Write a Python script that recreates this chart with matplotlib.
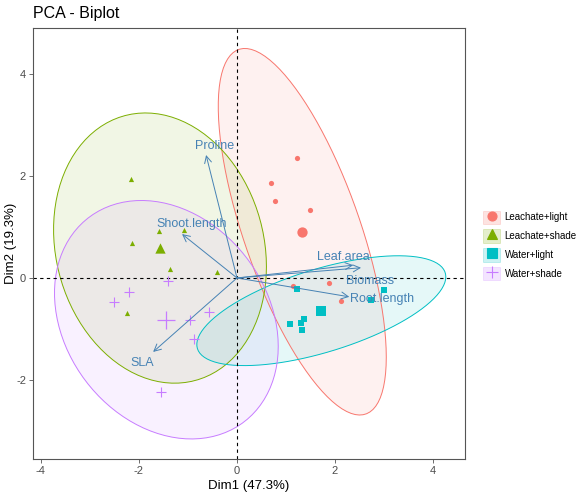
import numpy as np
import matplotlib
matplotlib.use("Agg")
import matplotlib.pyplot as plt
from matplotlib.patches import Polygon, Patch
from matplotlib.lines import Line2D
from matplotlib.legend_handler import HandlerTuple

plt.rcParams["font.family"] = ["Liberation Sans", "DejaVu Sans"]
plt.rcParams["axes.unicode_minus"] = False

# individuals (Dim1, Dim2) per group
groups = ["Leachate+light", "Leachate+shade", "Water+light", "Water+shade"]
dim1 = {
    "Leachate+light": [1.22, 0.69, 0.78, 1.49, 1.14, 1.88, 2.12],
    "Leachate+shade": [-2.16, -1.59, -1.08, -2.14, -1.37, -0.41, -2.24],
    "Water+light": [1.22, 3.00, 2.73, 1.37, 1.31, 1.08, 1.33],
    "Water+shade": [-1.41, -2.20, -2.51, -0.96, -0.57, -0.88, -1.55],
}
dim2 = {
    "Leachate+light": [2.35, 1.86, 1.51, 1.33, -0.16, -0.10, -0.45],
    "Leachate+shade": [1.94, 0.92, 0.94, 0.69, 0.18, 0.12, -0.69],
    "Water+light": [-0.22, -0.24, -0.43, -0.80, -0.88, -0.90, -1.02],
    "Water+shade": [-0.06, -0.27, -0.47, -0.82, -0.67, -1.20, -2.24],
}

# variable arrows (scaled coordinates)
variables = ["Proline", "Shoot.length", "SLA", "Leaf.area", "Biomass", "Root.length"]
var_x = [-0.63, -1.12, -1.71, 2.37, 2.53, 2.29]
var_y = [2.41, 0.86, -1.45, 0.25, 0.20, -0.37]

colors = {"Leachate+light": "#F8766D", "Leachate+shade": "#7CAE00",
          "Water+light": "#00BFC4", "Water+shade": "#C77CFF"}
markers = {"Leachate+light": "o", "Leachate+shade": "^",
           "Water+light": "s", "Water+shade": "+"}
# label offsets relative to arrow tips (data units)
label_offset = {"Proline": (0.18, 0.18), "Shoot.length": (0.2, 0.2), "SLA": (-0.23, -0.22),
                "Leaf.area": (-0.21, 0.16), "Biomass": (0.18, -0.26), "Root.length": (0.67, -0.04)}
VAR_COLOR = "#4682B4"


def norm_ellipse(x, y, level=0.95, n_seg=100):
    # same as ggplot2 stat_ellipse(type = "norm")
    x, y = np.asarray(x), np.asarray(y)
    n = len(x)
    center = np.array([x.mean(), y.mean()])
    cov = np.cov(np.vstack([x, y]))
    d2 = n - 1
    qf = d2 / 2 * ((1 - level) ** (-2 / d2) - 1)  # F(2, n-1) quantile
    radius = np.sqrt(2 * qf)
    t = np.linspace(0, 2 * np.pi, n_seg)
    circle = np.column_stack([np.cos(t), np.sin(t)])
    chol = np.linalg.cholesky(cov).T
    return center + radius * circle @ chol


fig = plt.figure(figsize=(5.86, 4.99), dpi=100)
ax = fig.add_axes([0.0563, 0.080, 0.7372, 0.864])

for g in groups:
    pts = norm_ellipse(dim1[g], dim2[g])
    ax.add_patch(Polygon(pts, closed=True, facecolor=colors[g], alpha=0.1, edgecolor="none", zorder=1))
    ax.add_patch(Polygon(pts, closed=True, facecolor="none", edgecolor=colors[g], lw=0.7, zorder=2))

ax.axhline(0, color="black", ls=(0, (3, 3)), lw=0.8, zorder=2.5)
ax.axvline(0, color="black", ls=(0, (3, 3)), lw=0.8, zorder=2.5)

for g in groups:
    c = colors[g]
    mk = markers[g]
    if mk == "+":
        ax.scatter(dim1[g], dim2[g], marker=mk, s=45, color=c, linewidths=0.8, zorder=3)
        ax.scatter(np.mean(dim1[g]), np.mean(dim2[g]), marker=mk, s=150, color=c, linewidths=0.9, zorder=3)
    else:
        ax.scatter(dim1[g], dim2[g], marker=mk, s=14, color=c, linewidths=0, zorder=3)
        ax.scatter(np.mean(dim1[g]), np.mean(dim2[g]), marker=mk, s=55, color=c, linewidths=0, zorder=3)

for name, vx, vy in zip(variables, var_x, var_y):
    ax.annotate("", xy=(vx, vy), xytext=(0, 0),
                arrowprops=dict(arrowstyle="->,head_length=0.5,head_width=0.25",
                                color=VAR_COLOR, lw=0.7, shrinkA=0, shrinkB=0), zorder=4)
    dx, dy = label_offset[name]
    ax.text(vx + dx, vy + dy, name, color=VAR_COLOR, fontsize=9,
            ha="center", va="center", zorder=5)

ax.set_xlim(-4.16, 4.65)
ax.set_ylim(-3.55, 4.9)
ax.set_xticks([-4, -2, 0, 2, 4])
ax.set_yticks([-2, 0, 2, 4])
ax.tick_params(colors="#555555", labelsize=8, length=3, width=0.6, pad=2)
for lab in ax.get_xticklabels() + ax.get_yticklabels():
    lab.set_color("#4d4d4d")
for sp in ax.spines.values():
    sp.set_color("#555555")
    sp.set_linewidth(0.8)
ax.set_xlabel("Dim1 (47.3%)", fontsize=9.5, labelpad=3)
ax.set_ylabel("Dim2 (19.3%)", fontsize=9.5)
ax.yaxis.set_label_coords(-0.036, 0.5)
ax.set_title("PCA - Biplot", loc="left", fontsize=11.5, pad=7)

handles = []
for g in groups:
    box = Patch(facecolor=colors[g], alpha=0.2, edgecolor=colors[g], lw=0.7)
    mk = Line2D([], [], marker=markers[g], color=colors[g], ls="none",
                markersize=9 if markers[g] == "+" else 6.5, markeredgewidth=0.8)
    handles.append((box, mk))
fig.legend(handles, groups, handler_map={tuple: HandlerTuple(ndivide=1, pad=0)},
           loc="center left", bbox_to_anchor=(0.818, 0.508), frameon=False,
           fontsize=7, handlelength=1.75, handleheight=1.75, labelspacing=0.55,
           handletextpad=0.45, borderaxespad=0)

fig.savefig("out.png", dpi=100)
